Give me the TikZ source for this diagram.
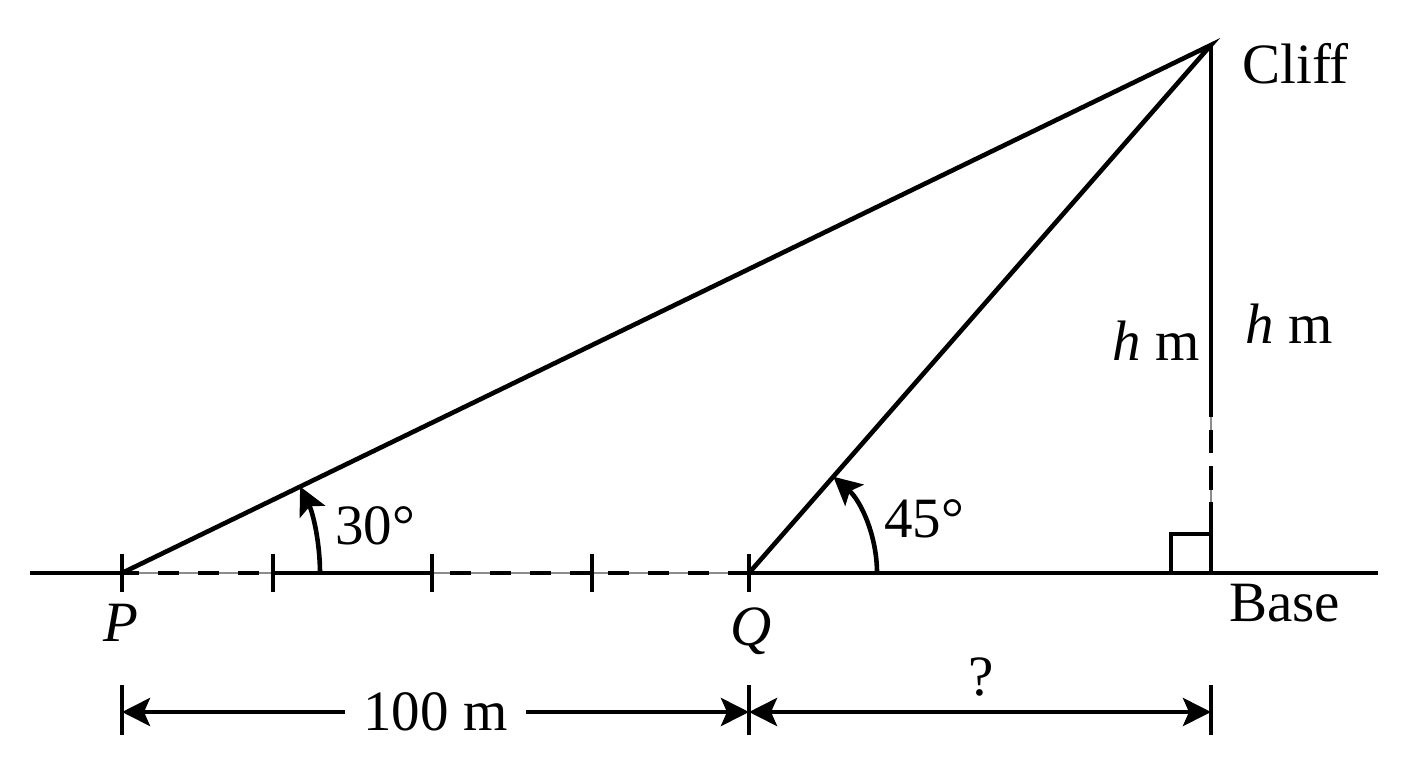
\documentclass[tikz,border=0pt]{standalone}
\usepackage{fontspec}
\setmainfont{Liberation Serif}
\usetikzlibrary{arrows.meta}
\begin{document}
\begin{tikzpicture}[x=0.5pt,y=0.5pt,
  line width=2.3pt,
  lbl/.style={inner sep=0pt, font=\fontsize{28.5}{32}\selectfont},
  arctip/.style={-{Stealth[length=14pt,width=14pt,inset=3pt]}},
  dimline/.style={{Stealth[length=14pt,width=14pt,inset=3pt]}-{Stealth[length=14pt,width=14pt,inset=3pt]}},
  faint/.style={line width=0.8pt, black!45},
  dashseg/.style={dash pattern=on 10.5pt off 9.5pt}]
\useasboundingbox (0,0) rectangle (1408,768);
% key points
\coordinate (GL) at (30,195);
\coordinate (GR) at (1378,195);
\coordinate (P) at (122,195);
\coordinate (T1) at (273,195);
\coordinate (T2) at (432,195);
\coordinate (T3) at (592,195);
\coordinate (Q) at (749,195);
\coordinate (B) at (1211,195);
\coordinate (C) at (1211,723);
% ground
\draw (GL) -- (P);
\draw[faint] (P) -- (T1);
\draw[dashseg, dash phase=2pt] (P) -- (T1);
\draw (T1) -- (T2);
\draw[faint] (T2) -- (Q);
\draw[dashseg, dash phase=11pt] (T2) -- (T3);
\draw[dashseg, dash phase=12pt] (T3) -- (Q);
\draw (Q) -- (GR);
% ticks
\foreach \x in {122,273,432,592,749} \draw (\x,176) -- (\x,214);
% sight lines
\draw[line join=miter] (P) -- (C) -- (Q);
% cliff
\coordinate (V1) at (1211,351);
\coordinate (V2) at (1211,338);
\coordinate (V3) at (1211,315);
\coordinate (V4) at (1211,302);
\coordinate (V5) at (1211,278);
\coordinate (V6) at (1211,266);
\draw (C) -- (V1);
\draw[faint] (V1) -- (V2);
\draw (V2) -- (V3);
\draw (V4) -- (V5);
\draw[faint] (V5) -- (V6);
\draw (V6) -- (B);
% right angle
\draw (1171,195) -- (1171,234) -- (1211,234);
% angle arcs
\draw[arctip] ([xshift=99pt]P) arc[start angle=0, end angle=25.9, radius=198];
\draw[arctip] ([xshift=64pt]Q) arc[start angle=0, end angle=48.8, radius=128];
% labels
\node[lbl, anchor=base west] (lcliff) at (1240,684) {Cliff};
\node[lbl, anchor=base west] (lh1) at (1110,408) {\textit{h} m};
\node[lbl, anchor=base west] (lh2) at (1243,425) {\textit{h} m};
\node[lbl, anchor=base west] (lbase) at (1227,147) {Base};
\node[lbl, anchor=base] (lP) at (121,127) {\textit{P}};
\node[lbl, anchor=base] (lQ) at (751,123) {\textit{Q}};
\node[lbl, anchor=base west] (l30) at (333,224) {30°};
\node[lbl, anchor=base west] (l45) at (882,231) {45°};
% dimensions
\coordinate (D1) at (122,56);
\coordinate (D2) at (749,56);
\coordinate (D3) at (1211,56);
\foreach \x in {122,749,1211} \draw (\x,33) -- (\x,83);
\draw[dimline] (D1) -- node[lbl, fill=white, inner xsep=9pt, inner ysep=2pt] (l100) {100 m} (D2);
\draw[dimline] (D2) -- (D3);
\node[lbl, anchor=base] (lq) at (981,73) {?};
\end{tikzpicture}
\end{document}
